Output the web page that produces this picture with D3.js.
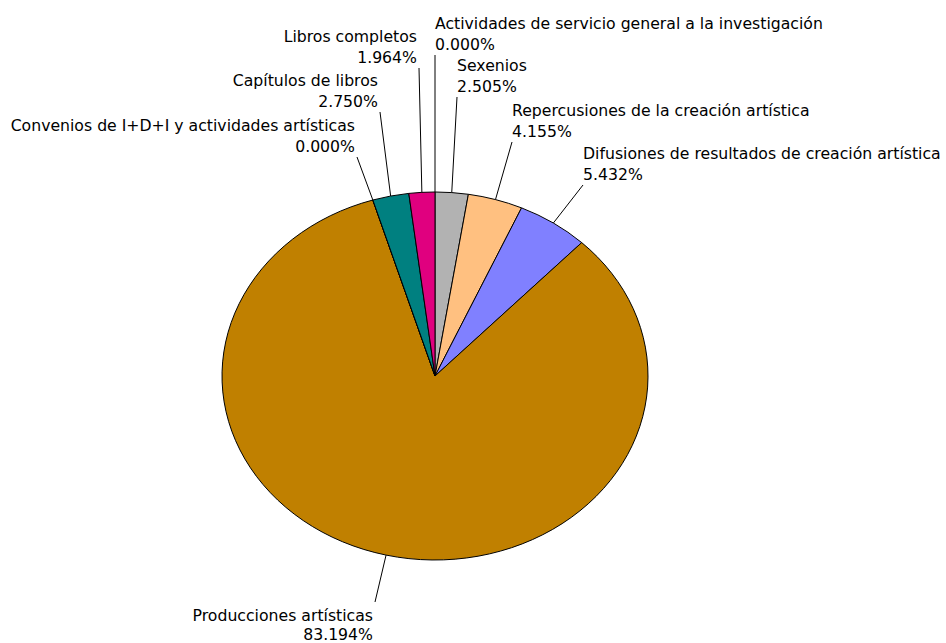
<!DOCTYPE html>
<html>
<head>
<meta charset="utf-8">
<script src="https://cdn.jsdelivr.net/npm/d3@7"></script>
<style>
  html, body { margin: 0; padding: 0; background: #fff; }
  svg { display: block; }
  text { font-family: "DejaVu Sans", Verdana, sans-serif; font-size: 15.7px; fill: #000; }
</style>
</head>
<body>
<svg id="chart" width="946" height="643"></svg>
<script>
const categories = [
  "Actividades de servicio general a la investigación",
  "Sexenios",
  "Repercusiones de la creación artística",
  "Difusiones de resultados de creación artística",
  "Producciones artísticas",
  "Convenios de I+D+I y actividades artísticas",
  "Capítulos de libros",
  "Libros completos"
];
const values = [0.000, 2.505, 4.155, 5.432, 83.194, 0.000, 2.750, 1.964];
const colors = ["#9999ff", "#b2b2b2", "#ffc080", "#8080ff", "#c08000", "#ff8080", "#008080", "#e0007f"];
const percentLabels = ["0.000%", "2.505%", "4.155%", "5.432%", "83.194%", "0.000%", "2.750%", "1.964%"];

// layout: leader line end points (label anchors) and label side
const labelAnchors = [[435, 55], [457, 97], [512, 142], [583, 185], [375, 602], [357, 157], [380, 112], [419, 68]];
const labelSide = ["right", "right", "right", "right", "bottom", "left", "left", "left"];

const cx = 435, cy = 376, rx = 213, ry = 184;
const lineGap = 21;

const svg = d3.select("#chart");
const pie = d3.pie().sort(null).value(d => d);
const arcs = pie(values);
const arc = d3.arc().innerRadius(0).outerRadius(rx);

const g = svg.append("g").attr("transform", `translate(${cx},${cy}) scale(1,${ry / rx})`);
g.selectAll("path")
  .data(arcs)
  .join("path")
  .attr("d", arc)
  .attr("fill", (d, i) => colors[i])
  .attr("stroke", "#000")
  .attr("stroke-width", 1)
  .attr("vector-effect", "non-scaling-stroke");

// leader lines
const edgePoint = d => {
  const a = (d.startAngle + d.endAngle) / 2;
  return [cx + rx * Math.sin(a), cy - ry * Math.cos(a)];
};
svg.append("g").selectAll("line")
  .data(arcs)
  .join("line")
  .attr("x1", d => edgePoint(d)[0])
  .attr("y1", d => edgePoint(d)[1])
  .attr("x2", (d, i) => labelAnchors[i][0])
  .attr("y2", (d, i) => labelAnchors[i][1])
  .attr("stroke", "#000")
  .attr("stroke-width", 1);

// labels
const lg = svg.append("g");
categories.forEach((c, i) => {
  const [ax, ay] = labelAnchors[i];
  const side = labelSide[i];
  let x, y1, anchor, gap = lineGap;
  if (side === "right") { x = ax; anchor = "start"; y1 = ay - 5 - lineGap; }
  else if (side === "left") { x = ax - 2; anchor = "end"; y1 = ay - 5 - lineGap; }
  else { x = ax - 2; anchor = "end"; y1 = ay + 19; gap = 19; }
  const t = lg.append("text").attr("text-anchor", anchor);
  t.append("tspan").attr("x", x).attr("y", y1).text(c);
  t.append("tspan").attr("x", x).attr("y", y1 + gap).text(percentLabels[i]);
});
</script>
</body>
</html>
